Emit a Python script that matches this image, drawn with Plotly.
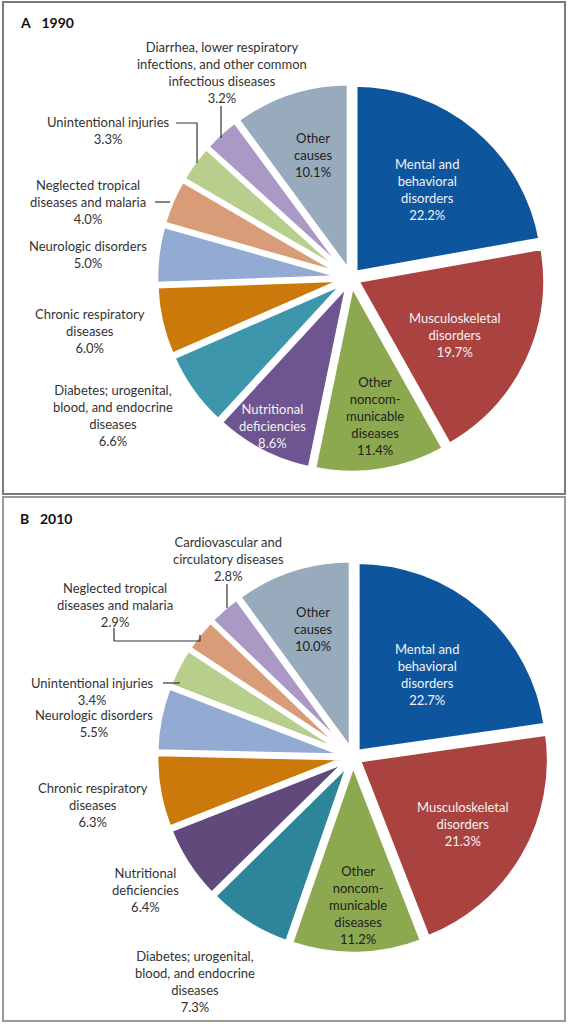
import plotly.graph_objects as go

W, H = 568, 1024

# ---------------- data ----------------
cats_1990 = ["Mental and<br>behavioral<br>disorders", "Musculoskeletal<br>disorders",
             "Other<br>noncom-<br>municable<br>diseases", "Nutritional<br>deficiencies",
             "Diabetes; urogenital,<br>blood, and endocrine<br>diseases", "Chronic respiratory<br>diseases",
             "Neurologic disorders", "Neglected tropical<br>diseases and malaria",
             "Unintentional injuries",
             "Diarrhea, lower respiratory<br>infections, and other common<br>infectious diseases",
             "Other<br>causes"]
vals_1990 = [22.2, 19.7, 11.4, 8.6, 6.6, 6.0, 5.0, 4.0, 3.3, 3.2, 10.1]
cols_1990 = ["#0D569E", "#AA4340", "#8DA94F", "#6E5490", "#3E96AC", "#CC790C",
             "#93AAD3", "#D89C79", "#B7CE8C", "#AA98C5", "#98ABBD"]

cats_2010 = ["Mental and<br>behavioral<br>disorders", "Musculoskeletal<br>disorders",
             "Other<br>noncom-<br>municable<br>diseases",
             "Diabetes; urogenital,<br>blood, and endocrine<br>diseases", "Nutritional<br>deficiencies",
             "Chronic respiratory<br>diseases", "Neurologic disorders", "Unintentional injuries",
             "Neglected tropical<br>diseases and malaria",
             "Cardiovascular and<br>circulatory diseases", "Other<br>causes"]
vals_2010 = [22.7, 21.3, 11.2, 7.3, 6.4, 6.3, 5.5, 3.4, 2.9, 2.8, 10.0]
cols_2010 = ["#0D569E", "#AA4340", "#8DA94F", "#2D8599", "#5F4A7B", "#CC790C",
             "#93AAD3", "#B7CE8C", "#D89C79", "#AA98C5", "#98ABBD"]

# label centres (pixels) and text colours, aligned with the category lists
lab_1990 = [(427, 189), (455, 335), (375, 416), (272, 426), (113, 415), (90, 331),
            (88, 254), (88, 202), (108, 130), (222, 72), (313, 155)]
lab_2010 = [(427, 674), (463, 824), (358, 905), (195, 981), (145, 890), (93, 805),
            (94, 723), (92, 691), (115, 605), (228, 559), (313, 629)]
tc_out = "#333333"
tc_in_light = "#F2F2F2"
tcol_1990 = [tc_in_light, tc_in_light, "#222222", tc_in_light] + [tc_out] * 6 + ["#222222"]
tcol_2010 = [tc_in_light, tc_in_light, "#222222"] + [tc_out] * 7 + ["#222222"]


def px(x):
    return x / W


def py(y):
    return 1 - y / H


def dom(cx, cy, R):
    return dict(x=[px(cx - R), px(cx + R)], y=[py(cy + R), py(cy - R)])


fig = go.Figure()
for cats, vals, cols, d in [(cats_1990, vals_1990, cols_1990, dom(351, 278, 195)),
                            (cats_2010, vals_2010, cols_2010, dom(353, 757, 197))]:
    fig.add_trace(go.Pie(labels=cats, values=vals, sort=False, direction="clockwise",
                         rotation=0, pull=0.035, textinfo="none", hoverinfo="label+value",
                         marker=dict(colors=cols, line=dict(color="white", width=4.5)),
                         domain=d, showlegend=False))

ann = []
for cats, vals, labs, tcols in [(cats_1990, vals_1990, lab_1990, tcol_1990),
                                (cats_2010, vals_2010, lab_2010, tcol_2010)]:
    for c, v, (x, y), tc in zip(cats, vals, labs, tcols):
        ann.append(dict(x=px(x), y=py(y), xref="paper", yref="paper", showarrow=False,
                        text=f"{c}<br>{v:.1f}%", align="center", xanchor="center", yanchor="middle",
                        font=dict(family="Lato", size=13, color=tc)))

ann.append(dict(x=px(18), y=py(22), xref="paper", yref="paper", showarrow=False, xanchor="left",
                yanchor="middle", text="<b>A</b>   <b>1990</b>",
                font=dict(family="Lato", size=14, color="#111")))
ann.append(dict(x=px(18), y=py(518), xref="paper", yref="paper", showarrow=False, xanchor="left",
                yanchor="middle", text="<b>B</b>   <b>2010</b>",
                font=dict(family="Lato", size=14, color="#111")))

shapes = []
# panel frames
shapes.append(dict(type="rect", xref="paper", yref="paper", x0=px(3), x1=px(565), y0=py(494), y1=py(2),
                   line=dict(color="#7A7A7A", width=2)))
shapes.append(dict(type="rect", xref="paper", yref="paper", x0=px(3), x1=px(565), y0=py(1021), y1=py(497),
                   line=dict(color="#9A9A9A", width=2)))

# leader lines
leaders = [
    [(221, 106), (221, 138)],
    [(176, 123), (197, 123), (197, 163)],
    [(155, 202), (170, 202)],
    [(227, 584), (227, 608)],
    [(114, 628), (114, 641), (200, 641), (200, 635)],
    [(163, 683), (180, 683)],
]
for pts in leaders:
    path = "M " + " L ".join(f"{px(x)},{py(y)}" for x, y in pts)
    shapes.append(dict(type="path", xref="paper", yref="paper", path=path,
                       line=dict(color="#333333", width=1.2)))

fig.update_layout(width=W, height=H, margin=dict(l=0, r=0, t=0, b=0),
                  paper_bgcolor="white", plot_bgcolor="white",
                  annotations=ann, shapes=shapes)
fig.write_html("out.html", config={"displayModeBar": False},
               post_script="document.body.style.margin='0';document.body.style.overflow='hidden';")
